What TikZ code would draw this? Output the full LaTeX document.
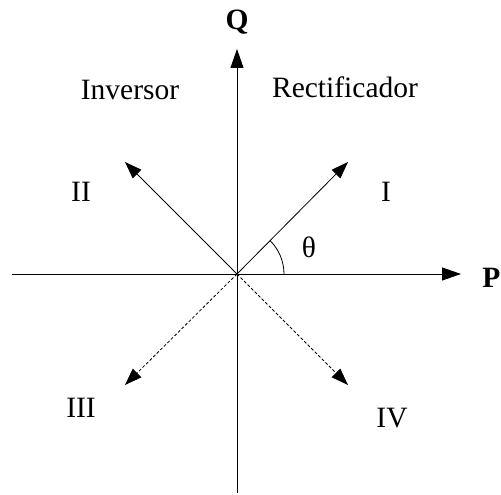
\documentclass[tikz,border=0pt]{standalone}
\usepackage{fontspec}
\setmainfont{Liberation Serif}
\usetikzlibrary{arrows.meta}
\begin{document}
\begin{tikzpicture}[x=1pt,y=1pt,
  axis/.style={line width=0.9pt,-{Triangle[length=19pt,width=13pt]}},
  vec/.style={line width=0.8pt,-{Triangle[length=17pt,width=12pt]}},
  dvec/.style={vec,dash pattern=on 3pt off 2pt},
  lbl/.style={font=\fontsize{29.5}{31}\selectfont,inner sep=0pt},
  blbl/.style={font=\fontsize{29.5}{31}\selectfont\bfseries,inner sep=0pt}]
\useasboundingbox (0,0) rectangle (501,495);
\coordinate (O) at (237,221);
\coordinate (L) at (12,221);
\coordinate (R) at (461,221);
\coordinate (B) at (237,2);
\coordinate (T) at (237,446);
\coordinate (v1) at (348,333);
\coordinate (v2) at (125,333);
\coordinate (v3) at (125,110);
\coordinate (v4) at (348,110);
\draw[axis] (L) -- (R);
\draw[axis] (B) -- (T);
\draw[vec] (O) -- (v1);
\draw[vec] (O) -- (v2);
\draw[dvec] (O) -- (v3);
\draw[dvec] (O) -- (v4);
\draw[line width=0.8pt] ([xshift=47pt]O) arc[start angle=0,end angle=45,radius=47pt];
\node[blbl] (Q) at (237,473) {Q};
\node[blbl,anchor=east] (P) at (500.5,217) {P};
\node[lbl] (inv) at (130,405) {Inversor};
\node[lbl] (rec) at (345,408) {Rectificador};
\node[lbl] (q2) at (81,303) {II};
\node[lbl] (q1) at (386,303) {I};
\node[lbl] (th) at (309,248) {θ};
\node[lbl] (q3) at (81,87) {III};
\node[lbl] (q4) at (392,77) {IV};
\end{tikzpicture}
\end{document}
